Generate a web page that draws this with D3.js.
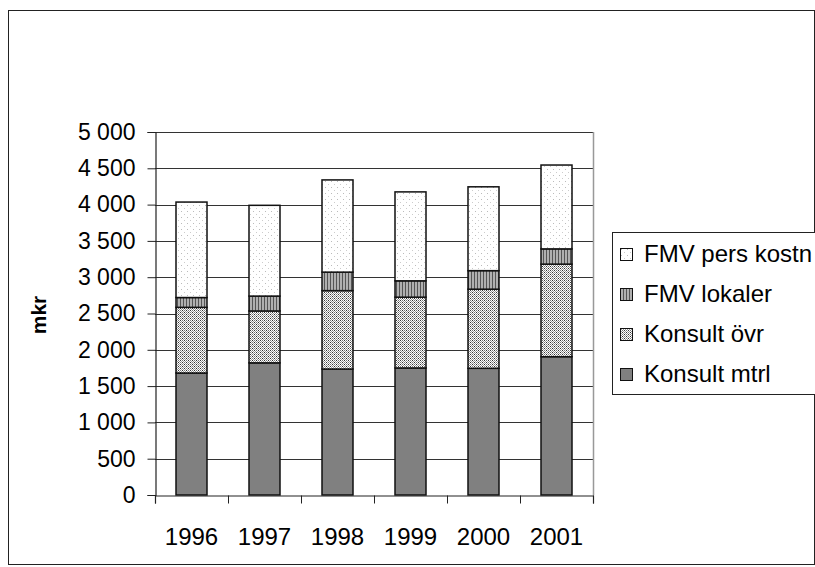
<!DOCTYPE html>
<html><head><meta charset="utf-8">
<script src="https://cdn.jsdelivr.net/npm/d3@7"></script>
<style>body{margin:0;background:#fff}svg{display:block}text{font-family:"Liberation Sans",Arial,sans-serif}</style>
</head><body>
<svg id="c" width="815" height="567"></svg>
<script>
const years = ["1996","1997","1998","1999","2000","2001"];
const konsultMtrl = [1680,1820,1735,1750,1745,1905];
const konsultOvr  = [905,715,1080,975,1090,1275];
const fmvLokaler  = [135,205,255,225,255,210];
const fmvPers     = [1315,1250,1270,1225,1155,1155];
const seriesNames = ["Konsult mtrl","Konsult övr","FMV lokaler","FMV pers kostn"];
const yTicks = [0,500,1000,1500,2000,2500,3000,3500,4000,4500,5000];

const svg = d3.select("#c");
const defs = svg.append("defs");
// patterns
const pPers = defs.append("pattern").attr("id","pPers").attr("patternUnits","userSpaceOnUse").attr("width",6).attr("height",6);
pPers.append("rect").attr("width",6).attr("height",6).attr("fill","#fff");
pPers.append("rect").attr("x",1).attr("y",1).attr("width",1).attr("height",1).attr("fill","#bbb");
pPers.append("rect").attr("x",4).attr("y",4).attr("width",1).attr("height",1).attr("fill","#ccc");
const pLok = defs.append("pattern").attr("id","pLok").attr("patternUnits","userSpaceOnUse").attr("width",3).attr("height",3);
pLok.append("rect").attr("width",3).attr("height",3).attr("fill","#b0b0b0");
pLok.append("rect").attr("width",1).attr("height",3).attr("fill","#555");
const pOvr = defs.append("pattern").attr("id","pOvr").attr("patternUnits","userSpaceOnUse").attr("width",4).attr("height",4);
pOvr.append("rect").attr("width",4).attr("height",4).attr("fill","#fff");
[[0,0,"#333"],[2,0,"#777"],[1,1,"#999"],[3,1,"#999"],[0,2,"#777"],[2,2,"#333"],[1,3,"#999"],[3,3,"#999"]]
  .forEach(([px,py,c])=>pOvr.append("rect").attr("x",px).attr("y",py).attr("width",1).attr("height",1).attr("fill",c));
const fills = ["#808080","url(#pOvr)","url(#pLok)","url(#pPers)"];

// outer border
svg.append("rect").attr("x",8.5).attr("y",10.5).attr("width",806).attr("height",554)
  .attr("fill","#fff").attr("stroke","#222").attr("stroke-width",1);

const pLeft=155, pRight=593, pTop=132, pBottom=495;
const x = d3.scaleBand().domain(years).range([pLeft,pRight]).paddingInner(0.575).paddingOuter(0.2875);
const y = d3.scaleLinear().domain([0,5000]).range([pBottom,pTop]);

// gridlines
svg.append("g").selectAll("line").data(yTicks.slice(1)).join("line")
  .attr("x1",pLeft).attr("x2",pRight).attr("y1",d=>Math.round(y(d))+0.5).attr("y2",d=>Math.round(y(d))+0.5)
  .attr("stroke","#333").attr("stroke-width",1);
svg.append("line").attr("x1",pRight+0.5).attr("x2",pRight+0.5).attr("y1",pTop).attr("y2",pBottom).attr("stroke","#999").attr("stroke-width",1.5);

// stacked bars
const table = years.map((yr,i)=>({year:yr,"Konsult mtrl":konsultMtrl[i],"Konsult övr":konsultOvr[i],"FMV lokaler":fmvLokaler[i],"FMV pers kostn":fmvPers[i]}));
const stack = d3.stack().keys(seriesNames)(table);
const bw = 31;
svg.append("g").selectAll("g").data(stack).join("g").attr("fill",(d,i)=>fills[i])
  .selectAll("rect").data(d=>d).join("rect")
  .attr("x",d=>x(d.data.year)+x.bandwidth()/2-bw/2)
  .attr("width",bw)
  .attr("y",d=>y(d[1]))
  .attr("height",d=>y(d[0])-y(d[1]))
  .attr("stroke","#111").attr("stroke-width",1.5);

// axes
const yAxis = d3.axisLeft(y).tickValues(yTicks).tickSize(8).tickPadding(12)
  .tickFormat(d=>d3.format(",")(d).replace(/,/g," "));
const gy = svg.append("g").attr("transform",`translate(${pLeft+0.5},0)`).call(yAxis);
gy.select(".domain").attr("stroke","#222").attr("stroke-width",1.2);
gy.selectAll(".tick line").attr("stroke","#222");
gy.selectAll("text").attr("font-size",23).attr("fill","#000").attr("font-family","Liberation Sans, Arial, sans-serif");

const xb = d3.scaleLinear().domain([0,years.length]).range([pLeft,pRight]);
const xAxis = d3.axisBottom(xb).tickValues(d3.range(0,years.length+1)).tickSize(8).tickFormat("");
const gx = svg.append("g").attr("transform",`translate(0,${pBottom+0.5})`).call(xAxis);
gx.select(".domain").attr("stroke","#222").attr("stroke-width",1.2);
gx.selectAll(".tick line").attr("stroke","#222");
svg.append("g").selectAll("text").data(years).join("text")
  .attr("x",d=>x(d)+x.bandwidth()/2).attr("y",545).attr("text-anchor","middle")
  .attr("font-size",24).text(d=>d);

// y label
svg.append("text").attr("transform","translate(46,315) rotate(-90)").attr("text-anchor","middle")
  .attr("font-size",21).attr("font-weight","bold").text("mkr");

// legend
const lg = svg.append("g");
lg.append("rect").attr("x",612.5).attr("y",232.5).attr("width",220).attr("height",162)
  .attr("fill","#fff").attr("stroke","#222").attr("stroke-width",1);
const legendItems = seriesNames.map((n,i)=>({name:n,fill:fills[i]})).reverse();
const li = lg.selectAll("g").data(legendItems).join("g")
  .attr("transform",(d,i)=>`translate(620,${254+i*40})`);
li.append("rect").attr("x",0.5).attr("y",-5.5).attr("width",12).attr("height",12)
  .attr("fill",d=>d.fill).attr("stroke","#111").attr("stroke-width",1);
li.append("text").attr("x",24).attr("y",8).attr("font-size",24).text(d=>d.name);
</script>
</body></html>
